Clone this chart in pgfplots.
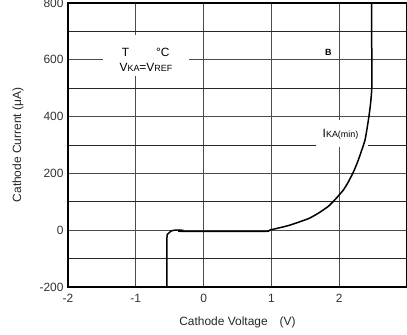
\documentclass[border=0pt]{standalone}
\usepackage{pgfplots}
\pgfplotsset{compat=1.18}
\usepackage{fontspec}
\setmainfont{Liberation Sans}
\begin{document}
\begin{tikzpicture}
\begin{axis}[
  scale only axis, width=339bp, height=284bp,
  xmin=-2, xmax=3, ymin=-200, ymax=800,
  xtick={-2,-1,0,1,2}, ytick={-200,0,200,400,600,800},
  minor ytick={-100,100,300,500,700},
  grid=both,
  major grid style={black!70, line width=0.7bp},
  minor grid style={black!85, line width=0.7bp},
  major tick length=0pt, minor tick length=0pt,
  axis line style={black, line width=1.1bp},
  tick label style={font=\fontsize{12}{14}\selectfont, text=black!80},
  /pgf/number format/assume math mode=true,
  xticklabel style={yshift=-4bp},
  yticklabel style={xshift=-1bp},
  xlabel={Cathode Voltage\quad(V)},
  ylabel={Cathode Current (μA)},
  label style={font=\fontsize{12}{14}\selectfont, text=black!85},
  xlabel style={yshift=-7bp},
  ylabel style={yshift=9bp},
  clip=true,
]
\coordinate (sw) at (rel axis cs:0,0);
\coordinate (ne) at (rel axis cs:1,1);
\node[fill=white, inner sep=0pt, minimum width=86bp, minimum height=41bp] at (axis cs:-0.85,614) {};
\node[fill=white, inner sep=0pt, minimum width=52bp, minimum height=27bp] at (axis cs:2.04,340) {};
\addplot[black, line width=1.5bp, smooth, tension=0.3] coordinates {
(-0.54,-200) (-0.54,-25) (-0.52,-12) (-0.48,-3) (-0.43,0) (-0.34,0) (-0.32,-4)
(0.9,-4) (0.97,0) (1.26,17) (1.55,41) (1.70,61) (1.84,84) (1.94,108) (2.06,141) (2.13,168)
(2.21,205) (2.28,246) (2.38,317) (2.43,387) (2.46,440) (2.48,500) (2.48,650) (2.48,800)
};
\node[font=\fontsize{12}{14}\selectfont] at (axis cs:-1.15,627) {T};
\node[font=\fontsize{12}{14}\selectfont] at (axis cs:-0.6,627) {°C};
\node[font=\fontsize{12}{14}\selectfont] at (axis cs:-0.85,575) {V{\fontsize{9}{10}\selectfont KA}=V{\fontsize{9}{10}\selectfont REF}};
\node[font=\fontsize{12}{14}\selectfont] at (axis cs:2.02,338) {I{\fontsize{9}{10}\selectfont KA(min)}};
\node[font=\bfseries\fontsize{9}{10}\selectfont] at (axis cs:1.84,627) {B};
\end{axis}
\pgfresetboundingbox
\path[use as bounding box] ([xshift=-68bp,yshift=-48bp]sw) rectangle ([yshift=3bp]ne);
\end{tikzpicture}
\end{document}
